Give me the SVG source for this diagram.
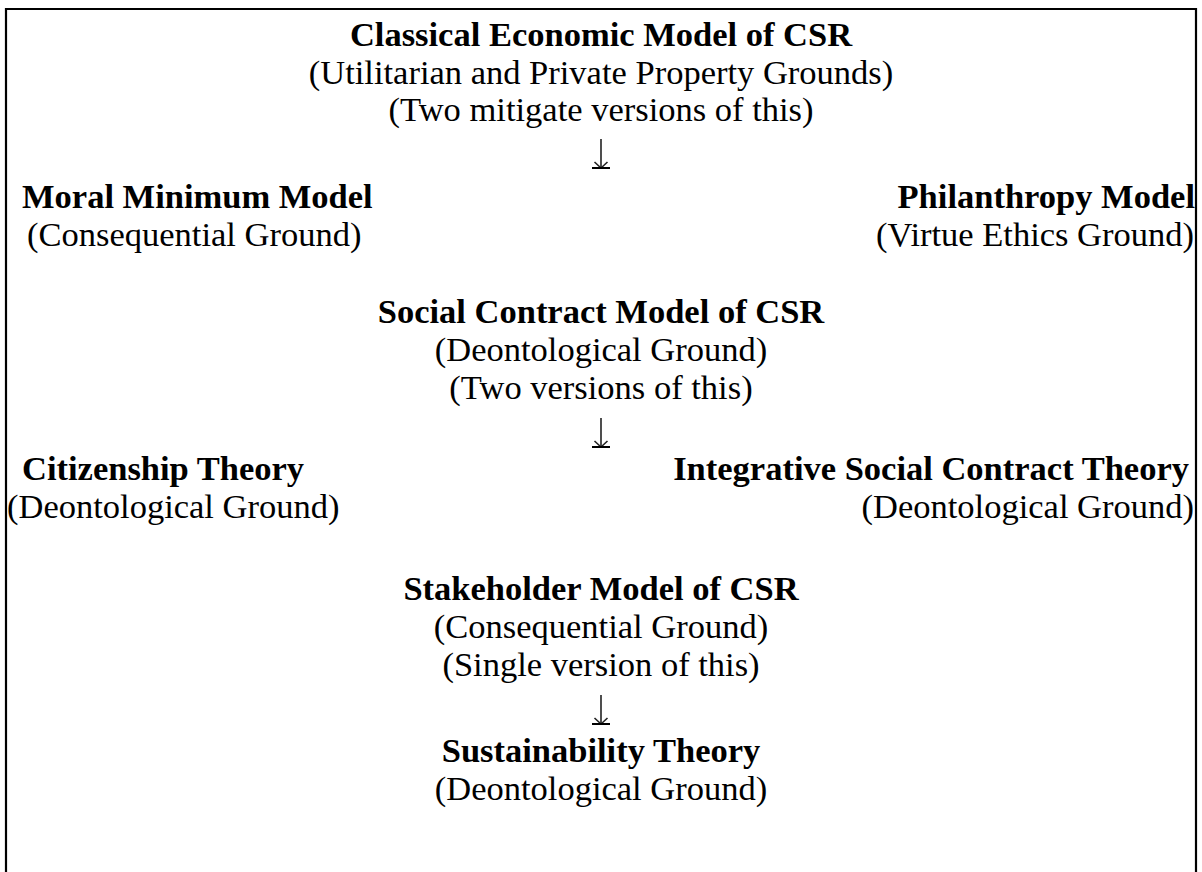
<svg xmlns="http://www.w3.org/2000/svg" width="1202" height="872" viewBox="0 0 1202 872">
<style>
text{font-family:"Liberation Serif","Times New Roman",serif;font-size:34.5px;fill:#000}
.b{font-weight:bold}
.c{text-anchor:middle}
.r{text-anchor:end}
.conn line{stroke:#222;stroke-width:1.6;fill:none}
.conn path{stroke:#222;stroke-width:1.6;fill:none}
.conn .bar{stroke:#000;stroke-width:2}
</style>
<rect width="1202" height="872" fill="#fff"/>
<path d="M6 874 V9 H1196 V874" fill="none" stroke="#000" stroke-width="2.2"/>
<g id="classical">
<text class="b c" x="601" y="46">Classical Economic Model of CSR</text>
<text class="c" x="601" y="84">(Utilitarian and Private Property Grounds)</text>
<text class="c" x="601" y="121">(Two mitigate versions of this)</text>
</g>
<g id="moral-minimum">
<text class="b" x="22" y="208">Moral Minimum Model</text>
<text x="27" y="246">(Consequential Ground)</text>
</g>
<g id="philanthropy">
<text class="b r" x="1195" y="208">Philanthropy Model</text>
<text class="r" x="1194" y="246">(Virtue Ethics Ground)</text>
</g>
<g id="social-contract">
<text class="b c" x="601" y="323">Social Contract Model of CSR</text>
<text class="c" x="601" y="361">(Deontological Ground)</text>
<text class="c" x="601" y="399">(Two versions of this)</text>
</g>
<g id="citizenship">
<text class="b" x="22" y="480">Citizenship Theory</text>
<text x="7" y="518">(Deontological Ground)</text>
</g>
<g id="integrative">
<text class="b r" x="1189" y="480">Integrative Social Contract Theory</text>
<text class="r" x="1194" y="518">(Deontological Ground)</text>
</g>
<g id="stakeholder">
<text class="b c" x="601" y="600">Stakeholder Model of CSR</text>
<text class="c" x="601" y="638">(Consequential Ground)</text>
<text class="c" x="601" y="676">(Single version of this)</text>
</g>
<g id="sustainability">
<text class="b c" x="601" y="762">Sustainability Theory</text>
<text class="c" x="601" y="800">(Deontological Ground)</text>
</g>
<g id="connectors" class="conn">
<g><line x1="601" y1="139" x2="601" y2="168"/><path d="M594.5 162 L601 168 L607.5 162"/><line class="bar" x1="592" y1="168" x2="610" y2="168"/></g>
<g><line x1="601" y1="418" x2="601" y2="447"/><path d="M594.5 441 L601 447 L607.5 441"/><line class="bar" x1="592" y1="447" x2="610" y2="447"/></g>
<g><line x1="601" y1="695" x2="601" y2="724"/><path d="M594.5 718 L601 724 L607.5 718"/><line class="bar" x1="592" y1="724" x2="610" y2="724"/></g>
</g>
</svg>
